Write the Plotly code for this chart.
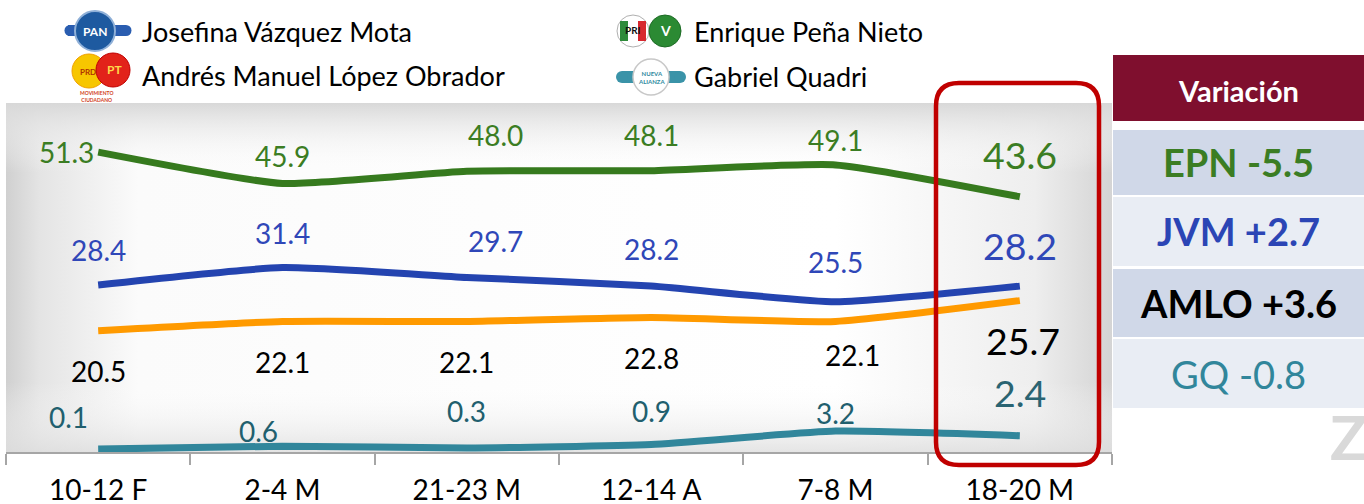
import base64
import plotly.graph_objects as go

# ---------------- data ----------------
categories = ["10-12 F", "2-4 M", "21-23 M", "12-14 A", "7-8 M", "18-20 M"]
epn = [51.3, 45.9, 48.0, 48.1, 49.1, 43.6]
jvm = [28.4, 31.4, 29.7, 28.2, 25.5, 28.2]
amlo = [20.5, 22.1, 22.1, 22.8, 22.1, 25.7]
gq = [0.1, 0.6, 0.3, 0.9, 3.2, 2.4]
names = ["Josefina Vázquez Mota", "Enrique Peña Nieto",
         "Andrés Manuel López Obrador", "Gabriel Quadri"]
short = ["EPN", "JVM", "AMLO", "GQ"]

W, H = 1364, 504
FONT = "Lato"

def px(x):
    return x / W

def py(y):
    return 1 - y / H

# plot area in pixels
L, R, T, B = 6, 1112, 103, 452

# ---------------- styles ----------------
series = [
    dict(vals=epn, line="#367a1e", lab="#3b7d23", big="#3b7d23",
         off=[(-32, 0), (0, -27), (29, -36), (0, -36), (0, -25), (0, -42)]),
    dict(vals=jvm, line="#2444b0", lab="#2f47b8", big="#2f47b8",
         off=[(0, -35), (0, -35), (29, -36), (0, -37), (0, -40), (0, -41)]),
    dict(vals=amlo, line="#ff9a00", lab="#000000", big="#000000",
         off=[(0, 40), (0, 41), (0, 41), (0, 41), (17, 34), (3, 40)]),
    dict(vals=gq, line="#31869b", lab="#215f6e", big="#2a6472",
         off=[(-30, -32), (-24, -15), (0, -37), (0, -33), (0, -18), (0, -43)]),
]

fig = go.Figure()
annotations = []
for s in series:
    fig.add_trace(go.Scatter(
        x=categories, y=s["vals"], mode="lines",
        line=dict(color=s["line"], width=7, shape="spline", smoothing=0.5),
        cliponaxis=False, hoverinfo="skip", showlegend=False))
    for i, (c, v) in enumerate(zip(categories, s["vals"])):
        dx, dy = s["off"][i]
        last = i == len(categories) - 1
        annotations.append(dict(
            x=c, y=v, xref="x", yref="y", text=f"{v:.1f}", showarrow=False,
            xshift=dx, yshift=-dy, xanchor="center", yanchor="middle",
            font=dict(family=FONT, size=37.5 if last else 28,
                      color=s["big"] if last else s["lab"])))

# ---------------- gradient background for plot area ----------------
pw, ph = R - L, B - T
svg = f"""<svg xmlns='http://www.w3.org/2000/svg' width='{pw}' height='{ph}' viewBox='0 0 {pw} {ph}' preserveAspectRatio='none'>
<defs>
<linearGradient id='h' x1='0' x2='1' y1='0' y2='0'>
<stop offset='0' stop-color='#d0d0d0'/><stop offset='0.03' stop-color='#e4e4e4'/>
<stop offset='0.12' stop-color='#fbfbfb'/><stop offset='0.75' stop-color='#ffffff'/>
<stop offset='0.93' stop-color='#eeeeee'/><stop offset='1' stop-color='#d4d4d4'/>
</linearGradient>
<linearGradient id='v' x1='0' x2='0' y1='0' y2='1'>
<stop offset='0' stop-color='#d8d8d8' stop-opacity='1'/>
<stop offset='0.06' stop-color='#e4e4e4' stop-opacity='0.7'/>
<stop offset='0.2' stop-color='#ffffff' stop-opacity='0'/>
<stop offset='0.8' stop-color='#ffffff' stop-opacity='0'/>
<stop offset='1' stop-color='#dedede' stop-opacity='0.8'/>
</linearGradient>
</defs>
<rect x='0' y='0' width='{pw}' height='{ph}' fill='url(#h)'/>
<rect x='0' y='0' width='{pw}' height='{ph}' fill='url(#v)'/>
</svg>"""
src = "data:image/svg+xml;base64," + base64.b64encode(svg.encode()).decode()

shapes = []
images = [dict(source=src, xref="paper", yref="paper", x=px(L), y=py(T),
               sizex=px(R) - px(L), sizey=py(T) - py(B), sizing="stretch",
               xanchor="left", yanchor="top", layer="below")]

# ---------------- legend (custom, with simple party badges) ----------------
def circle(cx, cy, r, fill, line="rgba(0,0,0,0)", lw=0):
    shapes.append(dict(type="circle", xref="paper", yref="paper",
                       x0=px(cx - r), x1=px(cx + r), y0=py(cy + r), y1=py(cy - r),
                       fillcolor=fill, line=dict(color=line, width=lw), layer="above"))

def rect(x0, y0, x1, y1, fill, layer="above"):
    shapes.append(dict(type="rect", xref="paper", yref="paper",
                       x0=px(x0), x1=px(x1), y0=py(y1), y1=py(y0),
                       fillcolor=fill, line=dict(width=0), layer=layer))

def text(x, y, t, size, color, bold=False, xanchor="left", family=FONT):
    annotations.append(dict(x=px(x), y=py(y), xref="paper", yref="paper",
                            text=f"<b>{t}</b>" if bold else t, showarrow=False,
                            xanchor=xanchor, yanchor="middle",
                            font=dict(family=family, size=size, color=color)))

# PAN badge
rect(68, 25, 126, 36, "#2a5db0")
circle(126, 30.5, 5.5, "#2a5db0")
circle(70, 30.5, 5.5, "#2a5db0")
circle(95, 31, 20, "#1e5aa0", "#8fb0d8", 2)
text(95, 31, "PAN", 12, "white", True, "center")
# PRD / PT / MC badge
circle(89, 71, 17, "#f7c600", "#f0a000", 1)
circle(113, 70, 17, "#e2231a", "#c00000", 1)
text(88, 72, "PRD", 8, "#b03000", True, "center")
text(114, 70, "PT", 12, "#ffd84a", True, "center")
text(96, 97, "MOVIMIENTO<br>CIUDADANO", 5, "#d04020", True, "center")
# PRI / PVEM badge
circle(633, 31, 16, "#ffffff", "#b0b0b0", 1)
rect(620, 21, 628, 41, "#2e8b3a")
rect(638, 21, 646, 41, "#d7282f")
text(633, 30, "PRI", 10, "#111111", True, "center")
circle(665, 31, 16, "#2b8a33", "#1d6b25", 1)
text(665, 30, "V", 14, "#ffffff", True, "center")
# Nueva Alianza badge
rect(622, 71, 680, 83, "#3a93a8")
circle(622, 77, 6, "#3a93a8")
circle(680, 77, 6, "#3a93a8")
circle(651, 77, 18, "#ffffff", "#c8c8c8", 1.5)
text(651, 77, "NUEVA<br>ALIANZA", 6, "#2f8aa0", True, "center")

text(140, 31, names[0], 27, "#000000")
text(692, 31, names[1], 27, "#000000")
text(140, 75, names[2], 27, "#000000")
text(692, 76, names[3], 27, "#000000")

# ---------------- highlight box around last poll ----------------
x0, x1 = px(936), px(1099)
ya, yb = py(83), py(465)
rx, ry = 23 / W, 23 / H
path = (f"M {x0 + rx},{ya} L {x1 - rx},{ya} Q {x1},{ya} {x1},{ya - ry} "
        f"L {x1},{yb + ry} Q {x1},{yb} {x1 - rx},{yb} L {x0 + rx},{yb} "
        f"Q {x0},{yb} {x0},{yb + ry} L {x0},{ya - ry} Q {x0},{ya} {x0 + rx},{ya} Z")
shapes.append(dict(type="path", path=path, xref="paper", yref="paper",
                   line=dict(color="#c00000", width=4.5), layer="above"))

# ---------------- variation table ----------------
var_vals = [s["vals"][-1] - s["vals"][-2] for s in series]
row_colors = ["#d0d8e8", "#e9edf4", "#d0d8e8", "#e9edf4"]
row_text = ["#3b7d23", "#2b45b5", "#000000", "#31869b"]
row_bold = [True, True, True, False]
row_y = [(130, 195), (197, 266), (269, 337), (339, 408)]
tx0, tx1 = 1113, 1364
rect(tx0, 55, tx1, 121, "#7f0f2e")
text((tx0 + tx1) / 2, 90, "Variación", 29, "#ffffff", True, "center")
for k, nm in enumerate(short):
    y0, y1 = row_y[k]
    rect(tx0, y0, tx1, y1, row_colors[k])
    v = var_vals[k]
    text((tx0 + tx1) / 2, (y0 + y1) / 2, f"{nm} {v:+.1f}", 38, row_text[k],
         row_bold[k], "center")

# watermark letter
text(1328, 436, "Z", 62, "#d9d9d9", True, "left")

fig.update_layout(
    width=W, height=H, margin=dict(l=0, r=0, t=0, b=0, autoexpand=False),
    paper_bgcolor="white", plot_bgcolor="rgba(0,0,0,0)",
    font=dict(family=FONT),
    shapes=shapes, annotations=annotations, images=images,
    xaxis=dict(domain=[px(L), px(R)], type="category", range=[-0.5, 5.5],
               automargin=False,
               showgrid=False, zeroline=False, showline=True,
               linecolor="#a6a6a6", linewidth=2, ticks="outside",
               tickson="boundaries", ticklen=11, tickwidth=2,
               tickcolor="#a6a6a6", ticklabelstandoff=12,
               tickfont=dict(family=FONT, size=28, color="#000000"),
               fixedrange=True),
    yaxis=dict(domain=[py(B), py(T)], range=[-0.4, 59.77], visible=False,
               automargin=False,
               showgrid=False, zeroline=False, fixedrange=True),
)

fig.write_html("out.html", config={"displayModeBar": False},
               post_script="document.documentElement.style.overflow='hidden';"
                           "document.body.style.margin='0';"
                           "document.body.style.overflow='hidden';")
